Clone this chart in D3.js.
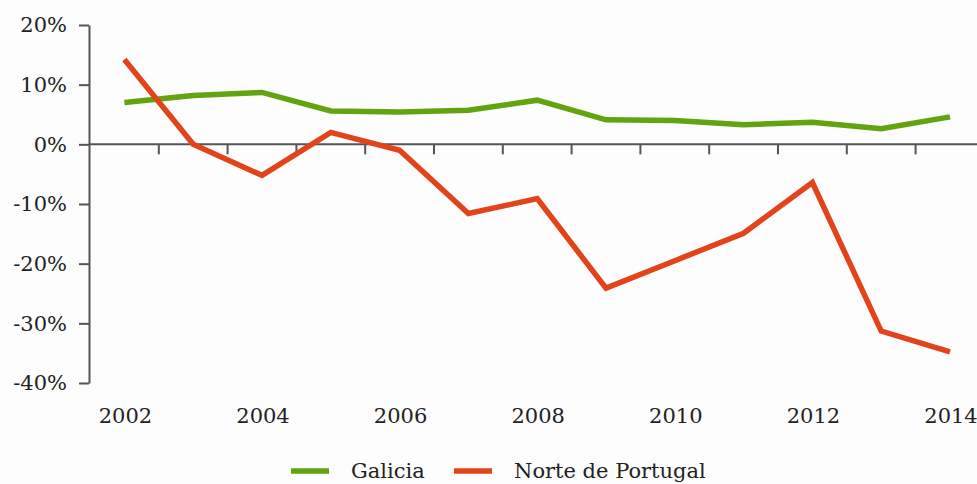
<!DOCTYPE html>
<html>
<head>
<meta charset="utf-8">
<script src="https://cdn.jsdelivr.net/npm/d3@7"></script>
<style>
    body { margin: 0; background: #fdfdfd; }
    svg { display: block; }
    .axis text { font-family: "DejaVu Serif", serif; font-size: 21px; fill: #222; }
    .axis path, .axis line { stroke: #555; stroke-width: 2px; }
    .legend text { font-family: "DejaVu Serif", serif; font-size: 21px; fill: #222; }
</style>
</head>
<body>
<script>
var years = [2002, 2003, 2004, 2005, 2006, 2007, 2008, 2009, 2010, 2011, 2012, 2013, 2014];
var yearLabels = [2002, 2004, 2006, 2008, 2010, 2012, 2014];
var percentTicks = [-40, -30, -20, -10, 0, 10, 20];

var galicia = [7.0, 8.2, 8.7, 5.6, 5.4, 5.7, 7.4, 4.1, 4.0, 3.3, 3.7, 2.6, 4.6];
var norte = [14.2, 0.0, -5.2, 2.0, -1.0, -11.6, -9.1, -24.1, -19.5, -14.9, -6.4, -31.3, -34.8];

var seriesNames = ["Galicia", "Norte de Portugal"];
var seriesColors = ["#62a30f", "#e2431a"];

var width = 977, height = 484;

var svg = d3.select("body").append("svg")
    .attr("width", width)
    .attr("height", height);

var x = d3.scaleBand()
    .domain(years)
    .range([90, 90 + 68.8 * years.length])
    .paddingInner(0)
    .paddingOuter(0);

var y = d3.scaleLinear()
    .domain([-40, 20])
    .range([383, 25]);

// y axis
svg.append("g")
    .attr("class", "axis")
    .attr("transform", "translate(89,0)")
    .call(d3.axisLeft(y)
        .tickValues(percentTicks)
        .tickSize(10)
        .tickSizeOuter(0)
        .tickPadding(12)
        .tickFormat(function (d) { return d + "%"; }));

// x axis along zero: ticks sit between categories
var xAxis = svg.append("g")
    .attr("class", "axis")
    .attr("transform", "translate(0," + y(0) + ")");

xAxis.append("line")
    .attr("x1", 89)
    .attr("x2", width)
    .attr("y1", 0)
    .attr("y2", 0);

xAxis.selectAll(".tick")
    .data(years.slice(1))
    .enter().append("line")
    .attr("class", "tick")
    .attr("x1", function (d) { return x(d); })
    .attr("x2", function (d) { return x(d); })
    .attr("y1", 0)
    .attr("y2", 10);

svg.append("g")
    .attr("class", "axis")
    .selectAll("text")
    .data(yearLabels)
    .enter().append("text")
    .attr("x", function (d) { return x(d) + x.bandwidth() / 2 + 1; })
    .attr("y", 423)
    .attr("text-anchor", "middle")
    .text(function (d) { return d; });

// lines
var line = d3.line()
    .x(function (d, i) { return x(years[i]) + x.bandwidth() / 2; })
    .y(function (d) { return y(d); });

[galicia, norte].forEach(function (values, k) {
    svg.append("path")
        .datum(values)
        .attr("fill", "none")
        .attr("stroke", seriesColors[k])
        .attr("stroke-width", 5.5)
        .attr("stroke-linejoin", "miter")
        .attr("d", line);
});

// legend
var legendX = [291, 454];
var legend = svg.append("g").attr("class", "legend");
seriesNames.forEach(function (name, k) {
    legend.append("line")
        .attr("x1", legendX[k])
        .attr("x2", legendX[k] + 38)
        .attr("y1", 471)
        .attr("y2", 471)
        .attr("stroke", seriesColors[k])
        .attr("stroke-width", 5.5);
    legend.append("text")
        .attr("x", legendX[k] + 60)
        .attr("y", 478)
        .text(name);
});
</script>
</body>
</html>
